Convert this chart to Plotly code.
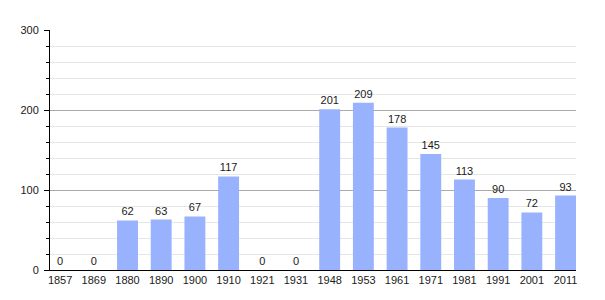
import plotly.graph_objects as go

years = ["1857", "1869", "1880", "1890", "1900", "1910", "1921", "1931",
         "1948", "1953", "1961", "1971", "1981", "1991", "2001", "2011"]
population = [0, 0, 62, 63, 67, 117, 0, 0, 201, 209, 178, 145, 113, 90, 72, 93]

bar_color = "#99b2fd"
font_family = "Liberation Sans, Arial, sans-serif"
text_color = "#1a1a1a"

fig = go.Figure(go.Bar(
    x=years,
    y=population,
    marker=dict(color=bar_color, line=dict(width=0)),
    text=[str(v) for v in population],
    textposition="outside",
    textfont=dict(size=11, color=text_color, family=font_family),
    outsidetextfont=dict(size=11, color=text_color, family=font_family),
    insidetextfont=dict(size=11, color=text_color, family=font_family),
    cliponaxis=False,
    width=0.62,
))

fig.update_layout(
    width=605, height=300,
    margin=dict(l=50, r=29, t=30, b=30),
    paper_bgcolor="white", plot_bgcolor="white",
    showlegend=False,
    font=dict(family=font_family, size=11, color=text_color),
)
fig.update_xaxes(
    type="category",
    range=[-0.3, 15.31],
    showline=True, linecolor="black", linewidth=1,
    showgrid=False, ticks="", tickfont=dict(size=11, color=text_color),
    zeroline=False,
)
fig.update_yaxes(
    range=[0, 300],
    dtick=100, tick0=0,
    showline=True, linecolor="black", linewidth=1,
    ticks="outside", ticklen=5, tickcolor="black",
    ticklabelstandoff=3,
    showgrid=True, gridcolor="#aaaaaa", gridwidth=1,
    zeroline=False,
    tickfont=dict(size=11, color=text_color),
    minor=dict(dtick=20, ticks="outside", ticklen=3, tickcolor="black",
               showgrid=True, gridcolor="#e6e6e6", gridwidth=1),
)

fig.write_html("out.html")
